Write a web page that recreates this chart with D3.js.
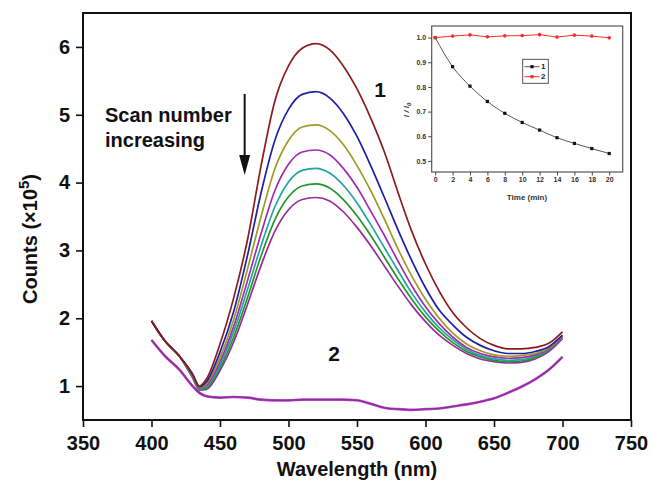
<!DOCTYPE html>
<html>
<head>
<meta charset="utf-8">
<script src="https://cdn.jsdelivr.net/npm/d3@7"></script>
<style>
  body { margin: 0; background: #fff; }
  svg { display: block; font-family: "Liberation Sans", Arial, sans-serif; }
  .big text, text.big { font-size: 20px; font-weight: bold; fill: #111; }
  .inset text { font-size: 7px; font-weight: bold; fill: #333; }
</style>
</head>
<body>
<div id="chart"></div>
<script>
// main spectra, counts in 10^5
const wavelengths = [400, 410, 420, 430, 435, 440, 450, 460, 470, 480, 490, 500, 510, 520, 530, 540,
                     550, 560, 570, 580, 590, 600, 610, 620, 630, 640, 650, 660, 670, 680, 690, 700];
const scan1 = [1.96, 1.66, 1.45, 1.18, 1.00, 1.10, 1.62, 2.30, 3.15, 4.25, 5.20, 5.72, 5.98, 6.05, 5.96, 5.72,
               5.38, 4.95, 4.45, 3.85, 3.28, 2.80, 2.40, 2.08, 1.86, 1.70, 1.60, 1.55, 1.55, 1.57, 1.63, 1.80];
const scan2 = [1.96, 1.66, 1.45, 1.17, 0.99, 1.06, 1.50, 2.10, 2.92, 3.85, 4.62, 5.08, 5.30, 5.34, 5.25, 5.02,
               4.68, 4.25, 3.78, 3.30, 2.85, 2.45, 2.12, 1.90, 1.72, 1.60, 1.52, 1.48, 1.48, 1.51, 1.58, 1.75];
const scan3 = [1.96, 1.66, 1.45, 1.16, 0.98, 1.03, 1.42, 1.98, 2.72, 3.50, 4.20, 4.62, 4.82, 4.85, 4.77, 4.56,
               4.25, 3.88, 3.46, 3.02, 2.62, 2.28, 2.00, 1.78, 1.62, 1.52, 1.46, 1.44, 1.45, 1.48, 1.56, 1.74];
const scan4 = [1.96, 1.66, 1.45, 1.15, 0.97, 1.01, 1.36, 1.88, 2.55, 3.25, 3.88, 4.27, 4.45, 4.48, 4.41, 4.21,
               3.93, 3.58, 3.22, 2.84, 2.48, 2.17, 1.92, 1.72, 1.57, 1.48, 1.43, 1.41, 1.42, 1.46, 1.55, 1.73];
const scan5 = [1.96, 1.66, 1.45, 1.14, 0.96, 0.99, 1.31, 1.80, 2.42, 3.07, 3.64, 4.01, 4.18, 4.21, 4.14, 3.96,
               3.70, 3.38, 3.04, 2.70, 2.37, 2.09, 1.86, 1.68, 1.54, 1.45, 1.40, 1.38, 1.39, 1.44, 1.54, 1.72];
const scan6 = [1.96, 1.66, 1.45, 1.13, 0.95, 0.97, 1.27, 1.72, 2.30, 2.92, 3.45, 3.79, 3.95, 3.98, 3.92, 3.75,
               3.51, 3.22, 2.90, 2.58, 2.28, 2.02, 1.81, 1.64, 1.51, 1.43, 1.38, 1.36, 1.37, 1.42, 1.53, 1.72];
const scan7 = [1.96, 1.66, 1.45, 1.12, 0.94, 0.95, 1.23, 1.65, 2.20, 2.78, 3.28, 3.60, 3.75, 3.78, 3.73, 3.57,
               3.34, 3.07, 2.77, 2.47, 2.19, 1.95, 1.75, 1.60, 1.48, 1.40, 1.36, 1.34, 1.35, 1.40, 1.51, 1.70];
const sample2 = [1.68, 1.44, 1.25, 1.00, 0.90, 0.85, 0.83, 0.84, 0.83, 0.80, 0.79, 0.79, 0.80, 0.80, 0.80, 0.80,
                 0.79, 0.74, 0.68, 0.66, 0.65, 0.66, 0.67, 0.70, 0.73, 0.77, 0.82, 0.90, 0.99, 1.10, 1.24, 1.43];
const scanColors = ["#8b1c1c", "#1f1fa3", "#9c9c24", "#a22cb0", "#23a3a3", "#23962a", "#9a2a9c"];
const sample2Color = "#8e2a9e";

const xTicks = [350, 400, 450, 500, 550, 600, 650, 700, 750];
const yTicks = [1, 2, 3, 4, 5, 6];

// inset: I/I0 against time
const timeMin = [0, 2, 4, 6, 8, 10, 12, 14, 16, 18, 20];
const ratio1 = [1.0, 0.882, 0.803, 0.741, 0.693, 0.656, 0.625, 0.594, 0.571, 0.550, 0.530];
const ratio2 = [1.0, 1.006, 1.011, 1.003, 1.007, 1.008, 1.012, 1.002, 1.010, 1.006, 0.999];
const insetXTicks = [0, 2, 4, 6, 8, 10, 12, 14, 16, 18, 20];
const insetYTicks = [0.5, 0.6, 0.7, 0.8, 0.9, 1.0];

const W = 651, H = 481;
const svg = d3.select("#chart").append("svg").attr("width", W).attr("height", H);

const x = d3.scaleLinear().domain([350, 750]).range([83, 631]);
const y = d3.scaleLinear().domain([0.5, 6.5]).range([420, 13]);

// curves
const scans = [scan1, scan2, scan3, scan4, scan5, scan6, scan7];
const line = d3.line().x(d => x(d[0])).y(d => y(d[1])).curve(d3.curveMonotoneX);

svg.append("path")
    .attr("d", line(wavelengths.map((w, i) => [w, sample2[i]])))
    .attr("fill", "none").attr("stroke", "#b548c2").attr("stroke-width", 2.6);
svg.append("path")
    .attr("d", line(wavelengths.map((w, i) => [w, sample2[i]])))
    .attr("fill", "none").attr("stroke", sample2Color).attr("stroke-width", 1.3);

// draw lowest scan first so the upper ones sit on top like the original
scans.slice().reverse().forEach((s, k) => {
    const idx = scans.length - 1 - k;
    svg.append("path")
        .attr("d", line(wavelengths.map((w, i) => [w, s[i]])))
        .attr("fill", "none")
        .attr("stroke", scanColors[idx])
        .attr("stroke-width", 1.7);
});

// axes
const gx = svg.append("g").attr("class", "big").attr("transform", "translate(0,420)");
gx.call(d3.axisBottom(x).tickValues(d3.range(375, 750, 50)).tickSize(4).tickFormat(""));
gx.call(d3.axisBottom(x).tickValues(xTicks).tickSize(7).tickFormat(d3.format("d")));
gx.select(".domain").remove();
gx.selectAll("line").attr("stroke", "#111").attr("stroke-width", 1.6);
gx.selectAll("text").attr("y", 30).attr("dy", null).style("font-size", "20px");

const gy = svg.append("g").attr("class", "big").attr("transform", "translate(83,0)");
gy.call(d3.axisLeft(y).tickValues(d3.range(1.5, 6.5, 1)).tickSize(4).tickFormat(""));
gy.call(d3.axisLeft(y).tickValues(yTicks).tickSize(7).tickFormat(d3.format("d")));
gy.select(".domain").remove();
gy.selectAll("line").attr("stroke", "#111").attr("stroke-width", 1.6);
gy.selectAll("text").attr("x", -13).style("font-size", "20px");

svg.append("rect").attr("x", 83).attr("y", 13).attr("width", 548).attr("height", 407)
    .attr("fill", "none").attr("stroke", "#111").attr("stroke-width", 2);

svg.append("text").attr("class", "big").attr("x", 357).attr("y", 476)
    .attr("text-anchor", "middle").text("Wavelength (nm)");

const yt = svg.append("text").attr("class", "big")
    .attr("transform", "translate(37,239) rotate(-90)").attr("text-anchor", "middle");
yt.append("tspan").text("Counts (\u00d710");
yt.append("tspan").attr("dy", -8).style("font-size", "15px").text("5");
yt.append("tspan").attr("dy", 8).text(")");

// annotations
svg.append("text").attr("class", "big").attr("x", 105).attr("y", 122).text("Scan number");
svg.append("text").attr("class", "big").attr("x", 105).attr("y", 147).text("increasing");
svg.append("line").attr("x1", x(468)).attr("x2", x(468)).attr("y1", 94).attr("y2", 158)
    .attr("stroke", "#111").attr("stroke-width", 2);
svg.append("path")
    .attr("d", `M${x(468) - 5.5},155 L${x(468) + 5.5},155 L${x(468)},175 Z`)
    .attr("fill", "#111");
svg.append("text").attr("class", "big").attr("x", 380).attr("y", 97)
    .attr("text-anchor", "middle").style("font-size", "21px").text("1");
svg.append("text").attr("class", "big").attr("x", 334).attr("y", 361)
    .attr("text-anchor", "middle").style("font-size", "21px").text("2");

// inset
const ix = d3.scaleLinear().domain([-0.4, 21.55]).range([431.7, 622.7]);
const iy = d3.scaleLinear().domain([0.455, 1.047]).range([172, 26]);
const inset = svg.append("g").attr("class", "inset");

inset.append("rect").attr("x", 431.7).attr("y", 26).attr("width", 191).attr("height", 146)
    .attr("fill", "#fff").attr("stroke", "#555").attr("stroke-width", 1.2);

const ixa = inset.append("g").attr("transform", "translate(0,172)");
ixa.call(d3.axisBottom(ix).tickValues(d3.range(1, 21, 2)).tickSize(2).tickFormat(""));
ixa.call(d3.axisBottom(ix).tickValues(insetXTicks).tickSize(3.5).tickPadding(2));
ixa.select(".domain").remove();
ixa.selectAll("line").attr("stroke", "#444");

const iya = inset.append("g").attr("transform", "translate(431.7,0)");
iya.call(d3.axisLeft(iy).tickValues(d3.range(0.55, 1.0, 0.1)).tickSize(2).tickFormat(""));
iya.call(d3.axisLeft(iy).tickValues(insetYTicks).tickSize(3.5).tickPadding(2).tickFormat(d3.format(".1f")));
iya.select(".domain").remove();
iya.selectAll("line").attr("stroke", "#444");

inset.append("text").attr("x", 527).attr("y", 200).attr("text-anchor", "middle")
    .style("font-size", "8px").text("Time (min)");
const iyl = inset.append("text").attr("transform", "translate(409,110) rotate(-90)")
    .attr("text-anchor", "middle").style("font-size", "8px").style("font-style", "italic");
iyl.append("tspan").text("I / I");
iyl.append("tspan").attr("dy", 2).style("font-size", "6px").text("0");

const iline = d3.line().x(d => ix(d[0])).y(d => iy(d[1]));
inset.append("path")
    .attr("d", iline.curve(d3.curveMonotoneX)(timeMin.map((t, i) => [t, ratio1[i]])))
    .attr("fill", "none").attr("stroke", "#555").attr("stroke-width", 1);
inset.selectAll("rect.p1").data(timeMin).join("rect").attr("class", "p1")
    .attr("x", (d) => ix(d) - 1.6).attr("y", (d, i) => iy(ratio1[i]) - 1.6)
    .attr("width", 3.2).attr("height", 3.2).attr("fill", "#111");

inset.append("path")
    .attr("d", iline.curve(d3.curveLinear)(timeMin.map((t, i) => [t, ratio2[i]])))
    .attr("fill", "none").attr("stroke", "#ff2a2a").attr("stroke-width", 1);
inset.selectAll("circle.p2").data(timeMin).join("circle").attr("class", "p2")
    .attr("cx", (d) => ix(d)).attr("cy", (d, i) => iy(ratio2[i]))
    .attr("r", 1.8).attr("fill", "#ff2a2a");

// inset legend
const lg = inset.append("g");
lg.append("rect").attr("x", 522.7).attr("y", 59.3).attr("width", 25.6).attr("height", 24)
    .attr("fill", "#fff").attr("stroke", "#444").attr("stroke-width", 0.9);
[["1", "#555", "#111", 66.7], ["2", "#ff2a2a", "#ff2a2a", 76.7]].forEach(([lab, lc, mc, ly]) => {
    lg.append("line").attr("x1", 524.5).attr("x2", 539.5).attr("y1", ly).attr("y2", ly)
        .attr("stroke", lc).attr("stroke-width", 1);
    lg.append("rect").attr("x", 530.4).attr("y", ly - 1.6).attr("width", 3.2).attr("height", 3.2)
        .attr("fill", mc);
    lg.append("text").attr("x", 541).attr("y", ly + 2.6).style("font-size", "8px").style("fill", "#222").text(lab);
});
</script>
</body>
</html>
